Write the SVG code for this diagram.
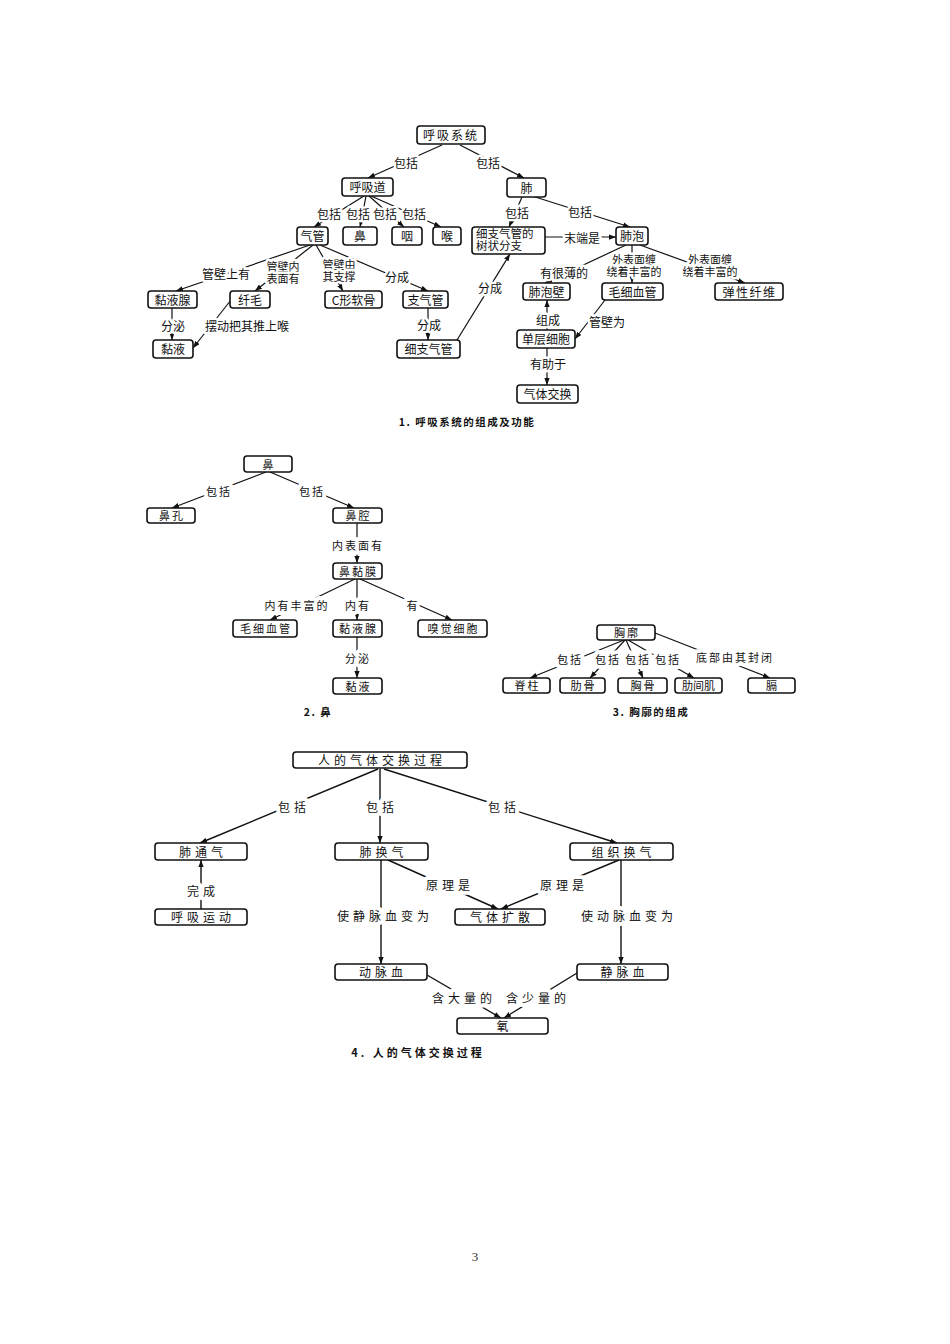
<svg xmlns="http://www.w3.org/2000/svg" width="950" height="1344" viewBox="0 0 950 1344">
<style>
.box{fill:#fff;stroke:#111;stroke-width:1.6}
.t{font-family:"Noto Sans CJK SC","Liberation Serif",sans-serif;font-size:12px;fill:#111;text-anchor:middle;dominant-baseline:central}
.s{font-size:11px;letter-spacing:2px}
.w{font-size:12px;letter-spacing:4px}
.m{font-size:11px}
.two{font-family:"Liberation Sans","Noto Sans CJK SC",sans-serif}
.lbl{paint-order:stroke;stroke:#fff;stroke-width:5px;stroke-linejoin:round}
.w.lbl,.s.lbl{stroke-width:8px}
.cap{font-size:10.5px;font-weight:bold;letter-spacing:1.5px}
.ln{stroke:#111;stroke-width:1.2;fill:none}
.ln2{stroke:#111;stroke-width:1.4;fill:none}
</style>
<defs>
<marker id="ah" viewBox="0 0 8 6" refX="8" refY="3" markerWidth="7" markerHeight="5.5" orient="auto" markerUnits="userSpaceOnUse">
<path d="M0,0 L8,3 L0,6 z" fill="#111"/>
</marker>
</defs>
<rect width="950" height="1344" fill="#fff"/>

<g id="connectors">
<!-- diagram 1 -->
<line class="ln" x1="442" y1="145" x2="368" y2="178" marker-end="url(#ah)"/>
<line class="ln" x1="460" y1="145" x2="524" y2="178" marker-end="url(#ah)"/>
<line class="ln" x1="364" y1="196" x2="314" y2="227" marker-end="url(#ah)"/>
<line class="ln" x1="366" y1="196" x2="360" y2="227" marker-end="url(#ah)"/>
<line class="ln" x1="369" y1="196" x2="404" y2="227" marker-end="url(#ah)"/>
<line class="ln" x1="371" y1="196" x2="441" y2="227" marker-end="url(#ah)"/>
<line class="ln" x1="522" y1="197" x2="509" y2="227" marker-end="url(#ah)"/>
<line class="ln" x1="532" y1="196" x2="630" y2="227" marker-end="url(#ah)"/>
<line class="ln" x1="545" y1="237" x2="616" y2="237" marker-end="url(#ah)"/>
<line class="ln" x1="310" y1="245" x2="176" y2="291" marker-end="url(#ah)"/>
<line class="ln" x1="313" y1="245" x2="255" y2="291" marker-end="url(#ah)"/>
<line class="ln" x1="316" y1="245" x2="343" y2="291" marker-end="url(#ah)"/>
<line class="ln" x1="320" y1="245" x2="428" y2="291" marker-end="url(#ah)"/>
<line class="ln" x1="172" y1="308" x2="172" y2="340" marker-end="url(#ah)"/>
<line class="ln" x1="231" y1="300" x2="193" y2="348" marker-end="url(#ah)"/>
<line class="ln" x1="428" y1="308" x2="428" y2="340" marker-end="url(#ah)"/>
<line class="ln" x1="457" y1="340" x2="510" y2="254" marker-end="url(#ah)"/>
<line class="ln" x1="626" y1="245" x2="545" y2="283" marker-end="url(#ah)"/>
<line class="ln" x1="632" y1="245" x2="632" y2="283" marker-end="url(#ah)"/>
<line class="ln" x1="640" y1="245" x2="745" y2="283" marker-end="url(#ah)"/>
<line class="ln" x1="547" y1="330" x2="547" y2="300" marker-end="url(#ah)"/>
<line class="ln" x1="605" y1="300" x2="575" y2="339" marker-end="url(#ah)"/>
<line class="ln" x1="547" y1="348" x2="547" y2="385" marker-end="url(#ah)"/>
<!-- diagram 2 -->
<line class="ln" x1="266" y1="472" x2="172" y2="508" marker-end="url(#ah)"/>
<line class="ln" x1="270" y1="472" x2="354" y2="508" marker-end="url(#ah)"/>
<line class="ln" x1="357" y1="523" x2="357" y2="563" marker-end="url(#ah)"/>
<line class="ln" x1="355" y1="579" x2="270" y2="620" marker-end="url(#ah)"/>
<line class="ln" x1="357" y1="579" x2="357" y2="620" marker-end="url(#ah)"/>
<line class="ln" x1="360" y1="579" x2="452" y2="620" marker-end="url(#ah)"/>
<line class="ln" x1="357" y1="637" x2="357" y2="678" marker-end="url(#ah)"/>
<!-- diagram 3 -->
<line class="ln" x1="624" y1="640" x2="530" y2="678" marker-end="url(#ah)"/>
<line class="ln" x1="625" y1="640" x2="590" y2="678" marker-end="url(#ah)"/>
<line class="ln" x1="626" y1="640" x2="643" y2="678" marker-end="url(#ah)"/>
<line class="ln" x1="628" y1="640" x2="694" y2="678" marker-end="url(#ah)"/>
<line class="ln" x1="655" y1="633" x2="770" y2="678" marker-end="url(#ah)"/>
<!-- diagram 4 -->
<line class="ln2" x1="378" y1="769" x2="200" y2="843" marker-end="url(#ah)"/>
<line class="ln2" x1="380" y1="769" x2="380" y2="843" marker-end="url(#ah)"/>
<line class="ln2" x1="384" y1="769" x2="617" y2="843" marker-end="url(#ah)"/>
<line class="ln2" x1="201" y1="909" x2="201" y2="860" marker-end="url(#ah)"/>
<line class="ln2" x1="381" y1="860" x2="381" y2="964" marker-end="url(#ah)"/>
<line class="ln2" x1="621" y1="860" x2="621" y2="964" marker-end="url(#ah)"/>
<line class="ln2" x1="388" y1="860" x2="498" y2="909" marker-end="url(#ah)"/>
<line class="ln2" x1="619" y1="860" x2="501" y2="909" marker-end="url(#ah)"/>
<line class="ln2" x1="427" y1="975" x2="501" y2="1018" marker-end="url(#ah)"/>
<line class="ln2" x1="577" y1="973" x2="504" y2="1018" marker-end="url(#ah)"/>
</g>

<g id="edge-labels">
<text class="t lbl" x="406" y="162">包括</text>
<text class="t lbl" x="488" y="162">包括</text>
<text class="t lbl" x="329" y="213">包括</text>
<text class="t lbl" x="358" y="213">包括</text>
<text class="t lbl" x="385" y="213">包括</text>
<text class="t lbl" x="414" y="213">包括</text>
<text class="t lbl" x="517" y="212">包括</text>
<text class="t lbl" x="580" y="211">包括</text>
<text class="t lbl" x="582" y="237">末端是</text>
<text class="t lbl" x="226" y="273">管壁上有</text>
<text class="t m two lbl" x="283" y="267"><tspan x="283" y="267">管壁内</tspan><tspan x="283" y="279">表面有</tspan></text>
<text class="t m two lbl" x="339" y="265"><tspan x="339" y="265">管壁由</tspan><tspan x="339" y="277">其支撑</tspan></text>
<text class="t lbl" x="397" y="276">分成</text>
<text class="t lbl" x="173" y="325">分泌</text>
<text class="t lbl" x="247" y="325">摆动把其推上喉</text>
<text class="t lbl" x="429" y="324">分成</text>
<text class="t lbl" x="490" y="287">分成</text>
<text class="t lbl" x="564" y="272">有很薄的</text>
<text class="t m two lbl" x="634" y="260"><tspan x="634" y="260">外表面缠</tspan><tspan x="634" y="272">绕着丰富的</tspan></text>
<text class="t m two lbl" x="710" y="260"><tspan x="710" y="260">外表面缠</tspan><tspan x="710" y="272">绕着丰富的</tspan></text>
<text class="t lbl" x="548" y="319">组成</text>
<text class="t lbl" x="607" y="321">管壁为</text>
<text class="t lbl" x="548" y="363">有助于</text>

<text class="t s lbl" x="219" y="491">包括</text>
<text class="t s lbl" x="312" y="491">包括</text>
<text class="t s lbl" x="358" y="545">内表面有</text>
<text class="t s lbl" x="297" y="605">内有丰富的</text>
<text class="t s lbl" x="358" y="605">内有</text>
<text class="t s lbl" x="413" y="605">有</text>
<text class="t s lbl" x="358" y="658">分泌</text>

<text class="t s lbl" x="570" y="659">包括</text>
<text class="t s lbl" x="608" y="659">包括</text>
<text class="t s lbl" x="638" y="659">包括</text>
<text class="t s lbl" x="668" y="659">包括</text>
<text class="t s lbl" x="735" y="657">底部由其封闭</text>

<text class="t w lbl" x="294" y="806">包括</text>
<text class="t w lbl" x="382" y="806">包括</text>
<text class="t w lbl" x="504" y="806">包括</text>
<text class="t w lbl" x="203" y="890">完成</text>
<text class="t w lbl" x="450" y="884">原理是</text>
<text class="t w lbl" x="564" y="884">原理是</text>
<text class="t w lbl" x="385" y="915">使静脉血变为</text>
<text class="t w lbl" x="629" y="915">使动脉血变为</text>
<text class="t w lbl" x="464" y="997">含大量的</text>
<text class="t w lbl" x="538" y="997">含少量的</text>
</g>

<!-- Diagram 1 nodes -->
<g id="n-hxxt"><rect class="box" x="417" y="126" width="68" height="18" rx="3"/><text class="t" x="451" y="134.5" style="letter-spacing:2px">呼吸系统</text></g>
<g id="n-hxd"><rect class="box" x="342" y="178" width="51" height="18" rx="3"/><text class="t" x="367.5" y="186.5">呼吸道</text></g>
<g id="n-fei"><rect class="box" x="507" y="178" width="39" height="19" rx="3"/><text class="t" x="526.5" y="187">肺</text></g>
<g id="n-qg"><rect class="box" x="297" y="227" width="31" height="18" rx="3"/><text class="t" x="312.5" y="235.5">气管</text></g>
<g id="n-bi"><rect class="box" x="343" y="227" width="34" height="18" rx="3"/><text class="t" x="360" y="235.5">鼻</text></g>
<g id="n-yan"><rect class="box" x="392" y="227" width="30" height="18" rx="3"/><text class="t" x="407" y="235.5">咽</text></g>
<g id="n-hou"><rect class="box" x="433" y="227" width="28" height="18" rx="3"/><text class="t" x="447" y="235.5">喉</text></g>
<g id="n-zqgs"><rect class="box" x="472" y="227" width="73" height="27" rx="3"/><text class="t two" x="476" y="234" style="text-anchor:start;font-size:11.5px"><tspan x="476" y="234">细支气管的</tspan><tspan x="476" y="246">树状分支</tspan></text></g>
<g id="n-fp"><rect class="box" x="616" y="227" width="32" height="18" rx="3"/><text class="t" x="632" y="235.5">肺泡</text></g>
<g id="n-nyx"><rect class="box" x="148" y="291" width="49" height="17" rx="3"/><text class="t" x="172.5" y="299">黏液腺</text></g>
<g id="n-xm"><rect class="box" x="230" y="291" width="40" height="17" rx="3"/><text class="t" x="250" y="299">纤毛</text></g>
<g id="n-crg"><rect class="box" x="325" y="291" width="57" height="17" rx="3"/><text class="t" x="353.5" y="299">C形软骨</text></g>
<g id="n-zqg"><rect class="box" x="403" y="291" width="45" height="17" rx="3"/><text class="t" x="425.5" y="299">支气管</text></g>
<g id="n-fpb"><rect class="box" x="523" y="283" width="47" height="17" rx="3"/><text class="t" x="546.5" y="291">肺泡壁</text></g>
<g id="n-mxxg"><rect class="box" x="602" y="283" width="61" height="17" rx="3"/><text class="t" x="632.5" y="291">毛细血管</text></g>
<g id="n-txxw"><rect class="box" x="715" y="283" width="68" height="17" rx="3"/><text class="t" x="749.5" y="291" style="letter-spacing:1.5px">弹性纤维</text></g>
<g id="n-ny"><rect class="box" x="153" y="340" width="40" height="18" rx="3"/><text class="t" x="173" y="348.5">黏液</text></g>
<g id="n-xzqg"><rect class="box" x="397" y="340" width="63" height="18" rx="3"/><text class="t" x="428.5" y="348.5">细支气管</text></g>
<g id="n-dcxb"><rect class="box" x="517" y="330" width="58" height="18" rx="3"/><text class="t" x="546" y="338.5">单层细胞</text></g>
<g id="n-qtjh"><rect class="box" x="517" y="385" width="61" height="18" rx="3"/><text class="t" x="547.5" y="393.5">气体交换</text></g>
<text class="t cap" x="467" y="421">1. 呼吸系统的组成及功能</text>

<!-- Diagram 2 nodes -->
<g id="n2-bi"><rect class="box" x="244" y="456" width="48" height="16" rx="3"/><text class="t s" x="269" y="463.5">鼻</text></g>
<g id="n2-bk"><rect class="box" x="147" y="508" width="48" height="15" rx="3"/><text class="t s" x="172" y="515">鼻孔</text></g>
<g id="n2-bq"><rect class="box" x="333" y="508" width="49" height="15" rx="3"/><text class="t s" x="358.5" y="515">鼻腔</text></g>
<g id="n2-bnm"><rect class="box" x="333" y="563" width="49" height="16" rx="3"/><text class="t s" x="358.5" y="570.5">鼻黏膜</text></g>
<g id="n2-mxxg"><rect class="box" x="233" y="620" width="64" height="17" rx="3"/><text class="t s" x="266" y="628">毛细血管</text></g>
<g id="n2-nyx"><rect class="box" x="333" y="620" width="49" height="17" rx="3"/><text class="t s" x="358.5" y="628">黏液腺</text></g>
<g id="n2-xjxb"><rect class="box" x="418" y="620" width="69" height="17" rx="3"/><text class="t s" x="453.5" y="628">嗅觉细胞</text></g>
<g id="n2-ny"><rect class="box" x="333" y="678" width="49" height="16" rx="3"/><text class="t s" x="358.5" y="685.5">黏液</text></g>
<text class="t cap" x="318" y="711">2. 鼻</text>

<!-- Diagram 3 nodes -->
<g id="n3-xk"><rect class="box" x="597" y="625" width="58" height="15" rx="3"/><text class="t s" x="627" y="632">胸廓</text></g>
<g id="n3-jz"><rect class="box" x="503" y="678" width="47" height="15" rx="3"/><text class="t s" x="527.5" y="685">脊柱</text></g>
<g id="n3-lg"><rect class="box" x="560" y="678" width="45" height="15" rx="3"/><text class="t s" x="583.5" y="685">肋骨</text></g>
<g id="n3-xg"><rect class="box" x="618" y="678" width="49" height="15" rx="3"/><text class="t s" x="643.5" y="685">胸骨</text></g>
<g id="n3-ljj"><rect class="box" x="675" y="678" width="47" height="15" rx="3"/><text class="t" x="698.5" y="685" style="font-size:11px">肋间肌</text></g>
<g id="n3-ge"><rect class="box" x="748" y="678" width="47" height="15" rx="3"/><text class="t s" x="772.5" y="685">膈</text></g>
<text class="t cap" x="651" y="711">3. 胸廓的组成</text>

<!-- Diagram 4 nodes -->
<g id="n4-top"><rect class="box" x="293" y="752" width="174" height="16" rx="3"/><text class="t w" x="382" y="759.5">人的气体交换过程</text></g>
<g id="n4-ftq"><rect class="box" x="155" y="843" width="92" height="17" rx="3"/><text class="t w" x="203" y="851">肺通气</text></g>
<g id="n4-fhq"><rect class="box" x="335" y="843" width="93" height="17" rx="3"/><text class="t w" x="383.5" y="851">肺换气</text></g>
<g id="n4-zzhq"><rect class="box" x="570" y="843" width="103" height="17" rx="3"/><text class="t w" x="623.5" y="851">组织换气</text></g>
<g id="n4-hxyd"><rect class="box" x="155" y="909" width="92" height="16" rx="3"/><text class="t w" x="203" y="916.5">呼吸运动</text></g>
<g id="n4-qtks"><rect class="box" x="455" y="909" width="90" height="16" rx="3"/><text class="t w" x="502" y="916.5">气体扩散</text></g>
<g id="n4-dmx"><rect class="box" x="335" y="964" width="92" height="16" rx="3"/><text class="t w" x="383" y="971.5">动脉血</text></g>
<g id="n4-jmx"><rect class="box" x="577" y="964" width="91" height="16" rx="3"/><text class="t w" x="624.5" y="971.5">静脉血</text></g>
<g id="n4-yang"><rect class="box" x="457" y="1018" width="91" height="16" rx="3"/><text class="t w" x="504.5" y="1025.5">氧</text></g>
<text class="t cap" x="418" y="1052" style="font-size:11px;letter-spacing:3px">4. 人的气体交换过程</text>

<text x="475" y="1261" style="font-family:'Liberation Serif',serif;font-size:13px;text-anchor:middle;fill:#333">3</text>
</svg>
